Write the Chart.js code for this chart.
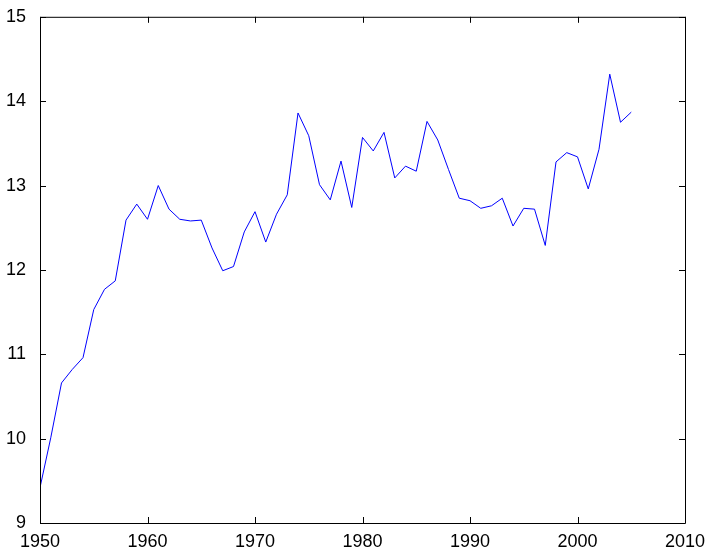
<!DOCTYPE html>
<html>
<head>
<meta charset="utf-8">
<script src="https://cdn.jsdelivr.net/npm/chart.js@4/dist/chart.umd.min.js"></script>
<style>
  html, body { margin: 0; padding: 0; background: #fff; }
  #wrap { width: 710px; height: 558px; }
</style>
</head>
<body>
<div id="wrap"><canvas id="c" width="710" height="558"></canvas></div>
<script>
// data
const years = [];
for (let y = 1950; y <= 2005; y++) years.push(y);

const values = [
  9.42, 10.01, 10.66, 10.82, 10.96, 11.53, 11.77, 11.87, 12.59, 12.78,
  12.60, 13.00, 12.72, 12.60, 12.58, 12.59, 12.26, 11.99, 12.04, 12.45,
  12.69, 12.33, 12.66, 12.89, 13.86, 13.59, 13.01, 12.83, 13.29, 12.74,
  13.57, 13.41, 13.63, 13.09, 13.23, 13.17, 13.76, 13.54, 13.19, 12.85,
  12.82, 12.73, 12.76, 12.85, 12.52, 12.73, 12.72, 12.29, 13.28, 13.39,
  13.34, 12.96, 13.43, 14.32, 13.75, 13.87
];

const xTicks = [1950, 1960, 1970, 1980, 1990, 2000, 2010];
const yTicks = [9, 10, 11, 12, 13, 14, 15];

const points = years.map((yr, i) => ({ x: yr, y: values[i] }));

// box round the plot with inward tick marks on all four sides
const boxPlugin = {
  id: 'box',
  afterDraw(chart) {
    const { ctx, chartArea: a, scales } = chart;
    const len = 6;
    ctx.save();
    ctx.strokeStyle = '#000';
    ctx.lineWidth = 1;
    ctx.beginPath();
    ctx.rect(a.left + 0.5, a.top + 0.5, a.right - a.left, a.bottom - a.top);
    xTicks.forEach(t => {
      const px = Math.round(scales.x.getPixelForValue(t)) + 0.5;
      ctx.moveTo(px, a.bottom);
      ctx.lineTo(px, a.bottom - len);
      ctx.moveTo(px, a.top);
      ctx.lineTo(px, a.top + len);
    });
    yTicks.forEach(t => {
      const py = Math.round(scales.y.getPixelForValue(t)) + 0.5;
      ctx.moveTo(a.left, py);
      ctx.lineTo(a.left + len, py);
      ctx.moveTo(a.right, py);
      ctx.lineTo(a.right - len, py);
    });
    ctx.stroke();
    ctx.restore();
  }
};

const font = { family: "'Liberation Sans', Arial, sans-serif", size: 18 };

new Chart(document.getElementById('c').getContext('2d'), {
  type: 'line',
  data: {
    datasets: [{
      data: points,
      borderColor: '#0000ff',
      borderWidth: 1,
      pointRadius: 0,
      tension: 0,
      fill: false
    }]
  },
  options: {
    responsive: false,
    animation: false,
    layout: { padding: { top: 14, right: 25, left: 0, bottom: 0 } },
    plugins: { legend: { display: false }, tooltip: { enabled: false } },
    scales: {
      x: {
        type: 'linear',
        min: 1950, max: 2010,
        afterFit: s => { s.height = 35; },
        afterBuildTicks: s => { s.ticks = xTicks.map(v => ({ value: v })); },
        grid: { display: false },
        border: { display: false },
        ticks: { color: '#000', font, padding: 0, maxRotation: 0, callback: v => String(v) }
      },
      y: {
        min: 9, max: 15,
        afterFit: s => { s.width = 40; },
        afterBuildTicks: s => { s.ticks = yTicks.map(v => ({ value: v })); },
        grid: { display: false },
        border: { display: false },
        ticks: { color: '#000', font, padding: 6, callback: v => String(v) }
      }
    }
  },
  plugins: [boxPlugin]
});
</script>
</body>
</html>
